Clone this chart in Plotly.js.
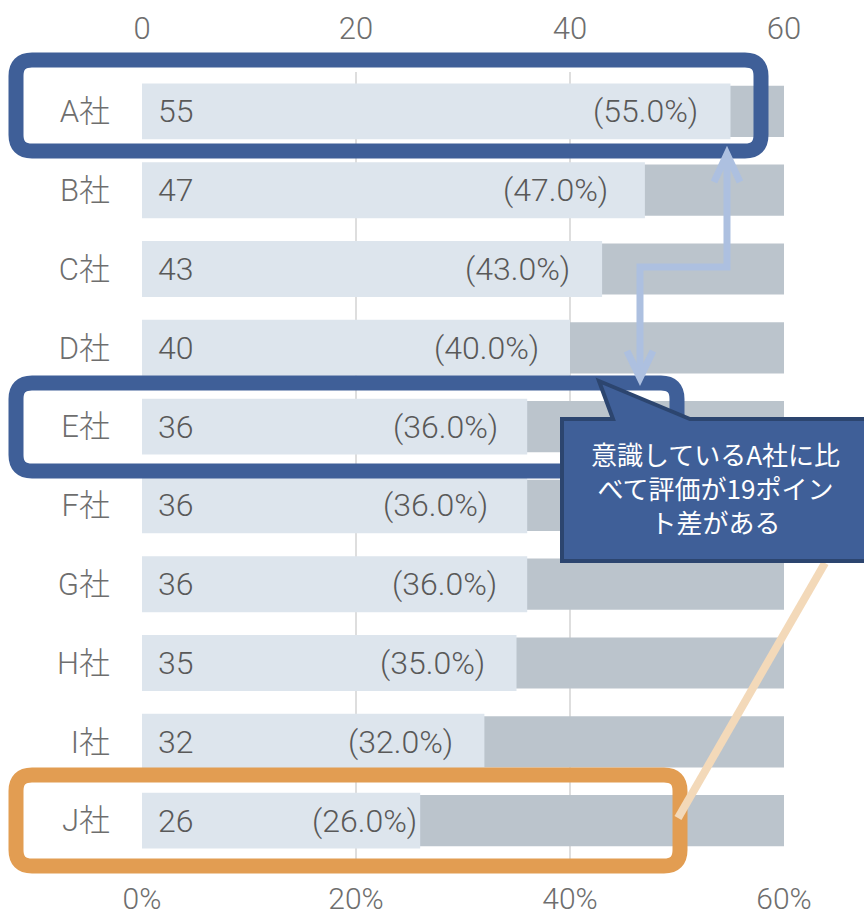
<!DOCTYPE html>
<html><head><meta charset="utf-8">
<script src="https://cdn.plot.ly/plotly-3.0.1.min.js"></script>
<style>html,body{margin:0;padding:0;background:#fff}#chart{width:864px;height:919px}</style>
</head><body><div id="chart"></div>
<script>
// ---- data ----
const companies = ['A社','B社','C社','D社','E社','F社','G社','H社','I社','J社'];
const scores = [55, 47, 43, 40, 36, 36, 36, 35, 32, 26];
const percents = [55.0, 47.0, 43.0, 40.0, 36.0, 36.0, 36.0, 35.0, 32.0, 26.0];
const xTicks = [0, 20, 40, 60];
const xTickTextTop = ['0', '20', '40', '60'];
const xTickTextBottom = ['0%', '20%', '40%', '60%'];
const axisMax = 60;
const calloutText = '意識しているA社に比<br>べて評価が19ポイン<br>ト差がある';

// ---- styling / layout helpers ----
const pctLabelInset = [34, 38, 33, 32, 30, 40, 31, 33, 32, 4]; // px from bar end
const W = 864, H = 919, M = {l:142, r:80, t:72, b:59};
const PW = W - M.l - M.r, PH = H - M.t - M.b;
const px = x => (x - M.l) / PW;
const py = y => (H - M.b - y) / PH;
const P = (x, y) => px(x).toFixed(5) + ',' + py(y).toFixed(5);
function roundRect(x0, y0, x1, y1, r) {
  return 'M' + P(x0 + r, y0) + ' L' + P(x1 - r, y0) + ' Q' + P(x1, y0) + ' ' + P(x1, y0 + r) +
    ' L' + P(x1, y1 - r) + ' Q' + P(x1, y1) + ' ' + P(x1 - r, y1) +
    ' L' + P(x0 + r, y1) + ' Q' + P(x0, y1) + ' ' + P(x0, y1 - r) +
    ' L' + P(x0, y0 + r) + ' Q' + P(x0, y0) + ' ' + P(x0 + r, y0) + ' Z';
}
function poly(pts) { return pts.map((p, i) => (i ? 'L' : 'M') + P(p[0], p[1])).join(' '); }

const FONT = "Roboto, 'Noto Sans CJK JP', sans-serif";
const tickColor = '#6e6e6e', labelColor = '#595959';
const blue = '#3f5f98', orange = '#e29d52';
const tf = {family:FONT, size:31, color:tickColor, weight:300};
const tfb = {family:FONT, size:30, color:tickColor, weight:300};
const lf = {family:FONT, size:32, color:labelColor, weight:300};

const traces = [
  {type:'bar', orientation:'h', y:companies, x:companies.map(() => axisMax), width:0.65,
   marker:{color:'#bbc4cc', line:{width:0}}, xaxis:'x', yaxis:'y', hoverinfo:'skip'},
  {type:'bar', orientation:'h', y:companies, x:scores, width:0.71,
   marker:{color:'#dde5ed', line:{width:0}}, xaxis:'x2', yaxis:'y', hoverinfo:'skip'}
];

const annotations = [];
companies.forEach((c, i) => {
  annotations.push({x:0, y:c, xref:'x2', yref:'y', text:String(scores[i]), xanchor:'left', xshift:14,
    showarrow:false, font:lf});
  annotations.push({x:scores[i], y:c, xref:'x2', yref:'y', text:'(' + percents[i].toFixed(1) + '%)',
    xanchor:'right', xshift:-(pctLabelInset[i] - 3), showarrow:false, font:lf});
});
annotations.push({xref:'paper', yref:'paper', x:px(715), y:py(487), text:calloutText, showarrow:false,
  xanchor:'center', yanchor:'middle', align:'center',
  font:{family:"'Noto Sans CJK JP', sans-serif", size:26, color:'#ffffff'}});

const shapes = [
  {type:'path', xref:'paper', yref:'paper', layer:'above', path:roundRect(16, 60, 761, 151, 16),
   line:{color:blue, width:15}, fillcolor:'rgba(0,0,0,0)'},
  {type:'path', xref:'paper', yref:'paper', layer:'above', path:roundRect(16, 383, 677, 471, 16),
   line:{color:blue, width:15}, fillcolor:'rgba(0,0,0,0)'},
  {type:'path', xref:'paper', yref:'paper', layer:'above', path:roundRect(16, 775, 680, 866, 16),
   line:{color:orange, width:15}, fillcolor:'rgba(0,0,0,0)'},
  {type:'path', xref:'paper', yref:'paper', layer:'above', path:poly([[825,563],[678,818]]),
   line:{color:'#f3d9b9', width:8}},
  {type:'path', xref:'paper', yref:'paper', layer:'above',
   path:poly([[727,154],[727,267],[640,267],[640,378]]), line:{color:'#adc0e0', width:7}},
  {type:'path', xref:'paper', yref:'paper', layer:'above',
   path:poly([[714,182],[727,154],[740,182]]), line:{color:'#adc0e0', width:7}},
  {type:'path', xref:'paper', yref:'paper', layer:'above',
   path:poly([[627,351],[640,378],[653,351]]), line:{color:'#adc0e0', width:7}},
  {type:'path', xref:'paper', yref:'paper', layer:'above',
   path:poly([[562,419],[613,419],[599,381],[690,419],[875,419],[875,561],[562,561]]) + ' Z',
   fillcolor:blue, line:{color:'#2c456f', width:4}}
];

const layout = {
  width:W, height:H, margin:M, paper_bgcolor:'#ffffff', plot_bgcolor:'#ffffff',
  barmode:'overlay', showlegend:false,
  font:{family:FONT, size:31, color:tickColor},
  xaxis:{range:[0, axisMax], tickmode:'array', tickvals:xTicks, ticktext:xTickTextBottom,
    showgrid:true, gridcolor:'#dedede', gridwidth:2,
    zeroline:false, showline:false, ticks:'', ticklabelstandoff:18, tickfont:tfb},
  xaxis2:{overlaying:'x', side:'top', range:[0, axisMax], tickmode:'array', tickvals:xTicks, ticktext:xTickTextTop,
    showgrid:false, zeroline:false, showline:false, ticks:'', ticklabelstandoff:26, tickfont:tf},
  yaxis:{type:'category', categoryorder:'array', categoryarray:companies, range:[9.5, -0.5],
    showgrid:false, zeroline:false, showline:false, ticks:'', ticklabelstandoff:31, tickfont:tf},
  shapes:shapes, annotations:annotations
};

Plotly.newPlot('chart', traces, layout, {displayModeBar:false, staticPlot:true});
</script>
</body></html>
